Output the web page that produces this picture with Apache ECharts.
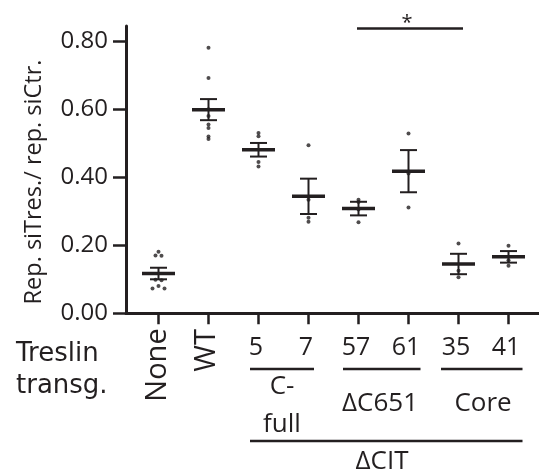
<!DOCTYPE html>
<html><head><meta charset="utf-8">
<script src="https://cdn.jsdelivr.net/npm/echarts@6/dist/echarts.min.js"></script>
<style>html,body{margin:0;padding:0;background:#fff}#c{width:539px;height:476px}</style>
</head><body><div id="c"></div>
<script>
// ---- data ----
const categories = ['None', 'WT', '5', '7', '57', '61', '35', '41'];
const rotatedCategories = ['None', 'WT'];
const pointsNone = [0.181, 0.170, 0.169, 0.099, 0.097, 0.080, 0.073, 0.073];
const pointsWT   = [0.781, 0.692, 0.600, 0.580, 0.555, 0.545, 0.520, 0.513];
const points5    = [0.530, 0.521, 0.445, 0.432];
const points7    = [0.494, 0.334, 0.281, 0.269];
const points57   = [0.334, 0.327, 0.305, 0.268];
const points61   = [0.529, 0.411, 0.311];
const points35   = [0.205, 0.125, 0.106];
const points41   = [0.199, 0.156, 0.140];
const groupPoints = [pointsNone, pointsWT, points5, points7, points57, points61, points35, points41];
const means = [0.117, 0.599, 0.481, 0.344, 0.308, 0.418, 0.145, 0.166];
const sems  = [0.017, 0.031, 0.020, 0.052, 0.020, 0.062, 0.030, 0.017];
const yTicks = [0, 0.2, 0.4, 0.6, 0.8];
const yAxisTitle = 'Rep. siTres./ rep. siCtr.';
const rowTitle = 'Treslin\ntransg.';
const subGroupLabels = ['C-\nfull', 'ΔC651', 'Core'];
const superGroupLabel = 'ΔCIT';
const sigLabel = '*';

// ---- layout ----
const W = 539, H = 476;
const G = {left: 126, right: 0, top: 26, bottom: 162.7};
const X_MIN = -0.65, X_MAX = 7.61, Y_MIN = 0, Y_MAX = 0.845;
const pxPerY = (H - G.top - G.bottom) / (Y_MAX - Y_MIN);
const pxPerX = (W - G.left - G.right) / (X_MAX - X_MIN);
const INK = '#231f20';
const FONT = '"Open Sans", "Noto Sans", sans-serif';

function swarm(values) {
  const sorted = values.slice().sort((a, b) => b - a);
  const rows = [];
  sorted.forEach(v => {
    const last = rows[rows.length - 1];
    if (last && (last[last.length - 1] - v) * pxPerY < 2) last.push(v); else rows.push([v]);
  });
  const placed = [], out = [];
  rows.forEach(row => {
    let sp = 6, offs;
    for (;;) {
      offs = row.map((v, i) => (i - (row.length - 1) / 2) * sp);
      const ok = row.every((v, i) => placed.every(p => Math.hypot((p.v - v) * pxPerY, p.o - offs[i]) >= 4.5));
      if (ok || row.length === 1 || sp > 30) break;
      sp += 6;
    }
    row.forEach((v, i) => { placed.push({v, o: offs[i]}); out.push([v, offs[i] / pxPerX]); });
  });
  return out;
}

const scatterData = [];
groupPoints.forEach((pts, gi) => {
  swarm(pts).forEach(([v, dx]) => scatterData.push([gi + dx, v]));
});
const summaryData = means.map((m, i) => [i, m, sems[i]]);
const idx = categories.map((c, i) => i);

const chart = echarts.init(document.getElementById('c'), null, {renderer: 'canvas'});
chart.setOption({
  animation: false,
  backgroundColor: '#fff',
  grid: {left: G.left, right: G.right, top: G.top, bottom: G.bottom, containLabel: false, outerBoundsMode: 'none'},
  xAxis: {
    type: 'value', min: X_MIN, max: X_MAX,
    axisLine: {show: true, onZero: false, lineStyle: {color: INK, width: 3}},
    axisTick: {show: true, customValues: idx, length: 11, lineStyle: {color: INK, width: 2.5}},
    axisLabel: {
      show: true, customValues: idx, margin: 22,
      formatter: v => { const c = categories[Math.round(v)]; return rotatedCategories.includes(c) ? '' : c; },
      color: INK, fontFamily: FONT, fontSize: 25, padding: [0, 5, 0, 0]
    },
    splitLine: {show: false}
  },
  yAxis: {
    type: 'value', min: Y_MIN, max: Y_MAX,
    axisLine: {show: true, onZero: false, lineStyle: {color: INK, width: 3}},
    axisTick: {show: true, customValues: yTicks, length: 13, lineStyle: {color: INK, width: 2.5}},
    axisLabel: {show: true, customValues: yTicks, margin: 18, formatter: v => v.toFixed(2),
      color: INK, fontFamily: FONT, fontSize: 24},
    splitLine: {show: false}
  },
  series: [
    {type: 'scatter', data: scatterData, symbol: 'circle', symbolSize: 4,
     itemStyle: {color: INK}, z: 2},
    {type: 'custom', data: summaryData, z: 3,
     renderItem: function (params, api) {
       const x = api.value(0), m = api.value(1), s = api.value(2);
       const c = api.coord([x, m]), t = api.coord([x, m + s]), b = api.coord([x, m - s]);
       const st = {stroke: INK, lineWidth: 2};
       return {type: 'group', children: [
         {type: 'line', shape: {x1: c[0], y1: t[1], x2: c[0], y2: b[1]}, style: st},
         {type: 'line', shape: {x1: c[0] - 8.5, y1: t[1], x2: c[0] + 8.5, y2: t[1]}, style: st},
         {type: 'line', shape: {x1: c[0] - 8.5, y1: b[1], x2: c[0] + 8.5, y2: b[1]}, style: st},
         {type: 'line', shape: {x1: c[0] - 16.5, y1: c[1], x2: c[0] + 16.5, y2: c[1]}, style: {stroke: INK, lineWidth: 3.5}}
       ]};
     }}
  ]
});

function px(i) { return chart.convertToPixel({gridIndex: 0}, [i, 0])[0]; }
function py(v) { return chart.convertToPixel({gridIndex: 0}, [0, v])[1]; }
const graphics = [];
function hline(x1, x2, y, w) {
  graphics.push({type: 'line', shape: {x1, y1: y, x2, y2: y}, style: {stroke: INK, lineWidth: w || 2.5}, silent: true});
}
function txt(str, x, y, size, opts) {
  graphics.push(Object.assign({type: 'text', x, y, silent: true,
    style: Object.assign({text: str, fill: INK, font: size + 'px ' + FONT, align: 'center', verticalAlign: 'middle'}, (opts && opts.style) || {})
  }, (opts && opts.el) || {}));
}
// y-axis title
txt(yAxisTitle, 34.6, 182, 23.5, {el: {rotation: Math.PI / 2}});
// rotated category labels
txt(rotatedCategories[0], px(0) - 1, 365, 29, {el: {rotation: Math.PI / 2}});
txt(rotatedCategories[1], px(1) - 2, 350.5, 29, {el: {rotation: Math.PI / 2}});
// row title
txt(rowTitle, 16, 369.9, 26, {style: {align: 'left', font: '26px "DejaVu Sans", sans-serif', lineHeight: 32.3}});
// group brackets
hline(px(1.83), px(3.11), 369);
hline(px(3.69), px(5.24), 369);
hline(px(5.65), px(7.28), 369);
hline(px(1.83), px(7.28), 441);
txt(subGroupLabels[0], px(2.47), 405.9, 26, {style: {lineHeight: 38.3}});
txt(subGroupLabels[1], px(4.43), 403.3, 26);
txt(subGroupLabels[2], px(6.49), 403.3, 26);
txt(superGroupLabel, px(4.47), 461.7, 26);
// significance
hline(px(3.97), px(6.09), py(0.838), 2.5);
txt(sigLabel, px(4.97), 23, 20);

chart.setOption({graphic: graphics});
</script></body></html>
